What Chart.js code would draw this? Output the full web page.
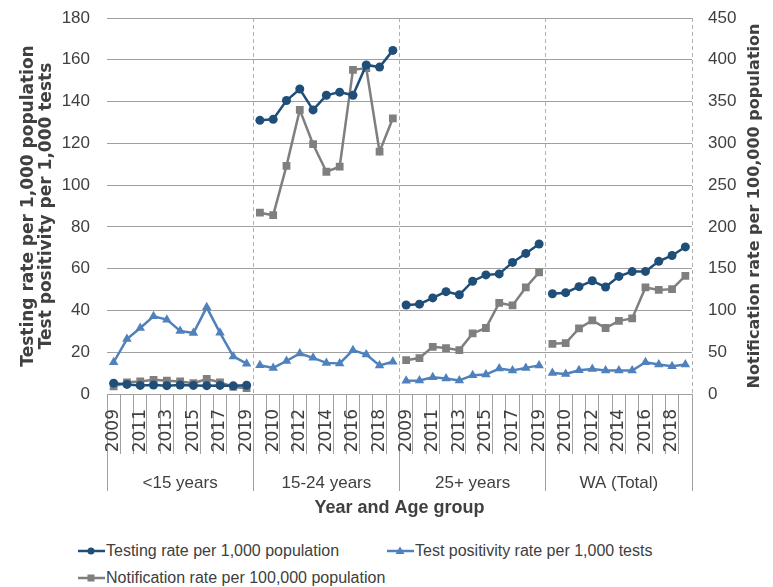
<!DOCTYPE html>
<html>
<head>
<meta charset="utf-8">
<script src="https://cdn.jsdelivr.net/npm/chart.js@4"></script>
<style>
  html, body { margin: 0; padding: 0; background: #fff; }
  .wrap { position: relative; width: 773px; height: 587px; font-family: "Liberation Sans", Arial, sans-serif; color: #404040; }
  .legend { position: absolute; left: 78px; top: 540px; width: 680px; display: grid; grid-template-columns: 309px auto; row-gap: 5px; font-size: 16px; }
  .legend-item { display: flex; align-items: center; height: 22px; white-space: nowrap; }
  .legend-item svg { margin-right: 1px; }
</style>
</head>
<body>
<div class="wrap">
  <canvas id="chart" width="773" height="530"></canvas>
  <div class="legend" id="legend"></div>
</div>
<script>
// categories
const years = ['2009', '2010', '2011', '2012', '2013', '2014', '2015', '2016', '2017', '2018', '2019'];
const ageGroups = ['<15 years', '15-24 years', '25+ years', 'WA (Total)'];

// series, 11 years per age group: <15, 15-24, 25+, WA (Total)
const testingRate = [
  5.2, 4.6, 4.1, 4.3, 4.0, 4.3, 4.1, 4.0, 4.1, 3.9, 4.2,
  131, 131.5, 140.5, 146, 136, 143, 144.5, 143, 157.5, 156.5, 164.5,
  42.6, 43, 46, 49, 47.5, 54, 57, 57.5, 63, 67.3, 71.8,
  48, 48.5, 51.4, 54.2, 51.2, 56.3, 58.6, 58.7, 63.5, 66.3, 70.4
];
const positivityRate = [
  15.2, 26.3, 31.6, 37.2, 35.6, 30.2, 29.2, 41.5, 29.3, 18, 14.5,
  13.8, 12.5, 15.8, 19.4, 17.3, 14.9, 14.6, 21, 18.9, 13.7, 15.4,
  6.4, 6.5, 8, 7.4, 6.5, 9, 9.3, 12.2, 11.3, 12.5, 13.7,
  10.1, 9.6, 11.4, 12, 11.2, 11.2, 11.2, 15.2, 14.1, 13.3, 14.1
];
const notificationRate = [
  9, 14, 15, 17, 16, 15, 13, 18, 14, 8.5, 7,
  217, 214, 273, 340, 299, 266, 272, 388, 390, 290, 330,
  40.5, 43, 56.5, 55, 52.5, 72.5, 79, 109, 106, 127.5, 145.5,
  60, 61, 78.5, 88, 79, 87.5, 90.5, 127.5, 124.5, 125.5, 141.5
];

const labels = ageGroups.flatMap(() => years);
const gridColor = '#a0a0a0';
const textColor = '#404040';

// break the line between age groups
const groupBreak = ctx => (ctx.p0DataIndex % years.length === years.length - 1) ? 'rgba(0,0,0,0)' : undefined;

const series = [
  { label: 'Testing rate per 1,000 population', data: testingRate, color: '#1F4E79', point: 'circle', radius: 4.5, axis: 'y' },
  { label: 'Test positivity rate per 1,000 tests', data: positivityRate, color: '#4F81BD', point: 'triangle', radius: 5.5, axis: 'y' },
  { label: 'Notification rate per 100,000 population', data: notificationRate, color: '#7F7F7F', point: 'rect', radius: 5.5, axis: 'y1' }
];

// fixed box sizes, no extra label overhang padding
const fixSize = (w, h) => s => {
  if (w) s.width = w;
  if (h) s.height = h;
  s.paddingTop = 0; s.paddingBottom = 0; s.paddingLeft = 0; s.paddingRight = 0;
};

// right axis title reads bottom-to-top like the left one
const rightTitle = {
  id: 'rightTitle',
  afterDraw(chart) {
    const { ctx, chartArea } = chart;
    const y1 = chart.scales.y1;
    ctx.save();
    ctx.translate(y1.right - 18, (chartArea.top + chartArea.bottom) / 2);
    ctx.rotate(-Math.PI / 2);
    ctx.font = 'bold 16px "DejaVu Sans"';
    ctx.fillStyle = textColor;
    ctx.textAlign = 'center';
    ctx.textBaseline = 'middle';
    ctx.fillText('Notification rate per 100,000 population', 0, 0);
    ctx.restore();
  }
};

new Chart(document.getElementById('chart'), {
  type: 'line',
  data: {
    labels: labels,
    datasets: series.map(s => ({
      label: s.label,
      data: s.data,
      yAxisID: s.axis,
      borderColor: s.color,
      backgroundColor: s.color,
      borderWidth: 2.5,
      pointStyle: s.point,
      pointRadius: s.radius,
      pointBorderWidth: 0,
      tension: 0,
      segment: { borderColor: groupBreak }
    }))
  },
  options: {
    responsive: false,
    animation: false,
    layout: { padding: { top: 18, left: 0, right: 0, bottom: 0 } },
    plugins: { legend: { display: false }, tooltip: { enabled: false } },
    scales: {
      x: {
        type: 'category',
        offset: true,
        weight: 0,
        afterFit: fixSize(0, 60),
        grid: { offset: true, drawOnChartArea: false, tickLength: 60, color: gridColor },
        border: { color: gridColor },
        ticks: {
          autoSkip: false, minRotation: 90, maxRotation: 90, padding: -45,
          color: textColor, font: { family: 'DejaVu Sans', size: 17 },
          callback: (v, i) => (i % 2 === 0 ? labels[i] : '')
        }
      },
      x2: {
        type: 'category',
        labels: ageGroups,
        position: 'bottom',
        offset: true,
        weight: 1,
        afterFit: fixSize(0, 76),
        grid: {
          offset: true, drawOnChartArea: true, tickLength: 37, tickColor: gridColor, tickBorderDash: [],
          color: c => (c.index === 0 || c.index === ageGroups.length) ? 'rgba(0,0,0,0)' : '#b0b0b0'
        },
        border: { display: false, dash: [4, 3] },
        ticks: { padding: -18, color: textColor, font: { family: 'Liberation Sans', size: 17 } },
        title: {
          display: true, text: 'Year and Age group', color: textColor,
          font: { family: 'Liberation Sans', size: 18, weight: 'bold' }, padding: { top: 0, bottom: 11 }
        }
      },
      y: {
        position: 'left',
        min: 0, max: 180,
        afterFit: fixSize(107, 0),
        grid: { color: gridColor, drawTicks: false },
        border: { display: false },
        ticks: { stepSize: 20, padding: 17, color: textColor, font: { family: 'Liberation Sans', size: 17 } },
        title: {
          display: true,
          text: ['Testing rate per 1,000 population', 'Test positivity per 1,000 tests'],
          color: textColor,
          font: { family: 'DejaVu Sans', size: 17, weight: 'bold', lineHeight: '18px' },
          padding: { top: 20, bottom: 0 }
        }
      },
      y1: {
        position: 'right',
        min: 0, max: 450,
        afterFit: fixSize(81, 0),
        grid: { drawOnChartArea: false, drawTicks: false },
        border: { display: false },
        ticks: { stepSize: 50, padding: 16, color: textColor, font: { family: 'Liberation Sans', size: 17 } }
      }
    }
  },
  plugins: [rightTitle]
});

// legend below the chart
const markerSvg = s => {
  const c = s.color;
  let m = '';
  if (s.point === 'circle') m = `<circle cx="13" cy="7" r="3.5" fill="${c}"/>`;
  if (s.point === 'triangle') m = `<polygon points="13,2.5 17.5,10 8.5,10" fill="${c}"/>`;
  if (s.point === 'rect') m = `<rect x="9.5" y="3.5" width="7" height="7" fill="${c}"/>`;
  return `<svg width="27" height="14"><line x1="0" y1="7" x2="27" y2="7" stroke="${c}" stroke-width="2.5"/>${m}</svg>`;
};
document.getElementById('legend').innerHTML = series.map(s => `
  <div class="legend-item">${markerSvg(s)}<span>${s.label}</span></div>
`).join('');
</script>
</body>
</html>
